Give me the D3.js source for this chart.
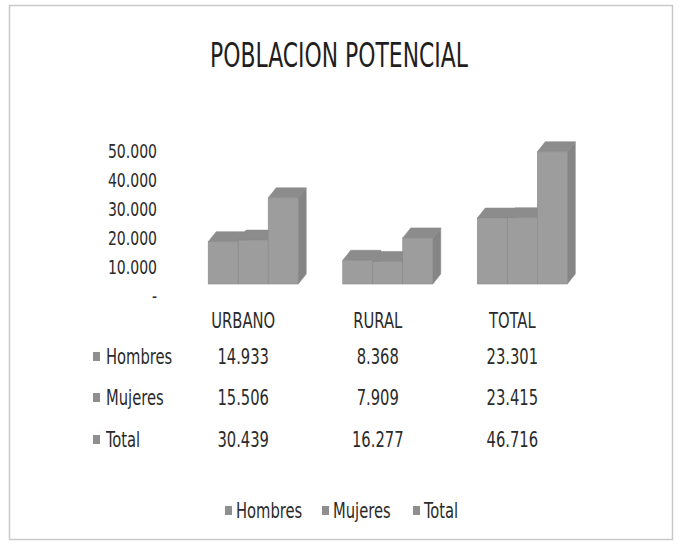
<!DOCTYPE html>
<html>
<head>
<meta charset="utf-8">
<script src="https://cdn.jsdelivr.net/npm/d3@7/dist/d3.min.js"></script>
<style>
  html, body { margin: 0; padding: 0; background: #ffffff; }
  svg { display: block; }
  text { font-family: "DejaVu Sans Condensed", "Liberation Sans Narrow", sans-serif; fill: #2b2b2b; }
</style>
</head>
<body>
<svg id="chart" width="679" height="547"></svg>
<script>
// Población potencial por área y sexo
const categories = ["URBANO", "RURAL", "TOTAL"];
const seriesNames = ["Hombres", "Mujeres", "Total"];
const hombres = [14933, 8368, 23301];
const mujeres = [15506, 7909, 23415];
const total = [30439, 16277, 46716];
const tickValues = [0, 10000, 20000, 30000, 40000, 50000];

const seriesValues = [hombres, mujeres, total];

const W = 679, H = 547;
const svg = d3.select("#chart");

const es = d3.formatLocale({ decimal: ",", thousands: ".", grouping: [3], currency: ["", ""] });
const fmt = v => v === 0 ? "-" : es.format(",d")(v);

// narrow text: place at (px, py) and squeeze horizontally
function narrowText(sel, px, py, sx) {
  return sel.attr("x", 0).attr("y", 0)
    .attr("transform", (d, i, n) => {
      const tx = typeof px === "function" ? px(d, i, n) : px;
      const ty = typeof py === "function" ? py(d, i, n) : py;
      return `translate(${tx},${ty}) scale(${sx},1)`;
    });
}

// frame
svg.append("rect").attr("x", 0).attr("y", 0).attr("width", W).attr("height", H).attr("fill", "#ffffff");
svg.append("rect")
  .attr("x", 9.5).attr("y", 5.5).attr("width", 663).attr("height", 534)
  .attr("fill", "none").attr("stroke", "#c9c9c9").attr("stroke-width", 1.5);

// title
svg.append("text")
  .attr("x", 339).attr("y", 67)
  .attr("text-anchor", "middle")
  .attr("font-size", 33)
  .attr("textLength", 258).attr("lengthAdjust", "spacingAndGlyphs")
  .style("fill", "#1e1e1e")
  .text("POBLACION POTENCIAL");

// scales
const x = d3.scaleBand().domain(categories).range([186, 589.5]).paddingInner(0.331).paddingOuter(0.165);
const xs = d3.scaleBand().domain(seriesNames).range([0, x.bandwidth()]).padding(0);
const y = d3.scaleLinear().domain([0, 50000]).range([284, 142.5]);
// axis sits on the back wall of the 3-D plot
const yWall = d3.scaleLinear().domain([0, 50000]).range([295, 150]);

const depth = { dx: 8, dy: -10 };

// value axis
const axisG = svg.append("g").attr("transform", "translate(157,0)")
  .call(d3.axisLeft(yWall).tickValues(tickValues).tickFormat(fmt).tickSize(0).tickPadding(0));
axisG.select(".domain").remove();
axisG.selectAll(".tick text")
  .attr("font-size", 20)
  .attr("font-family", null)
  .attr("x", 0).attr("dy", "0.35em")
  .attr("transform", "scale(0.78,1)")
  .style("fill", "#2b2b2b");

// 3-D columns
const colors = { front: "#9d9d9d", top: "#8c8c8c", side: "#858585", edge: "#8a8a8a" };
const bars = [];
categories.forEach((c, ci) => {
  seriesNames.forEach((s, si) => {
    bars.push({ c, s, v: seriesValues[si][ci] });
  });
});

const barG = svg.append("g");
bars.forEach(d => {
  const x0 = x(d.c) + xs(d.s);
  const x1 = x0 + xs.bandwidth();
  const y0 = y(0), y1 = y(d.v);
  const g = barG.append("g");
  // right side face
  g.append("path")
    .attr("d", d3.line()([[x1, y0], [x1 + depth.dx, y0 + depth.dy], [x1 + depth.dx, y1 + depth.dy], [x1, y1]]) + "Z")
    .attr("fill", colors.side).attr("stroke", colors.edge).attr("stroke-width", 0.6);
  // top face
  g.append("path")
    .attr("d", d3.line()([[x0, y1], [x0 + depth.dx, y1 + depth.dy], [x1 + depth.dx, y1 + depth.dy], [x1, y1]]) + "Z")
    .attr("fill", colors.top).attr("stroke", colors.edge).attr("stroke-width", 0.6);
  // front face
  g.append("rect")
    .attr("x", x0).attr("y", y1).attr("width", x1 - x0).attr("height", y0 - y1)
    .attr("fill", colors.front).attr("stroke", colors.edge).attr("stroke-width", 0.6);
});

// data table
const colX = c => x(c) + x.bandwidth() / 2 - 10;
const rowY = [321, 357, 398, 440];
const tableFont = 20.5;
const squeeze = 0.8;

narrowText(
  svg.append("g").selectAll("text").data(categories).join("text")
    .attr("dy", "0.35em").attr("text-anchor", "middle").attr("font-size", tableFont)
    .text(d => d),
  colX, rowY[0], squeeze);

seriesNames.forEach((s, si) => {
  const ry = rowY[si + 1];
  svg.append("rect").attr("x", 93).attr("y", ry - 5).attr("width", 7).attr("height", 9).attr("fill", "#8f8f8f");
  narrowText(
    svg.append("text").attr("dy", "0.35em").attr("font-size", tableFont).text(s),
    106, ry, squeeze);
  narrowText(
    svg.append("g").selectAll("text").data(categories).join("text")
      .attr("dy", "0.35em").attr("text-anchor", "middle").attr("font-size", tableFont)
      .text((c, ci) => fmt(seriesValues[si][ci])),
    colX, ry, squeeze);
});

// legend
const legendX = [225, 322, 413];
const legend = svg.append("g").selectAll("g").data(seriesNames).join("g")
  .attr("transform", (d, i) => `translate(${legendX[i]},511)`);
legend.append("rect").attr("x", 0).attr("y", -5).attr("width", 7).attr("height", 9).attr("fill", "#8f8f8f");
narrowText(
  legend.append("text").attr("dy", "0.35em").attr("font-size", tableFont).text(d => d),
  11, 0, squeeze);
</script>
</body>
</html>
